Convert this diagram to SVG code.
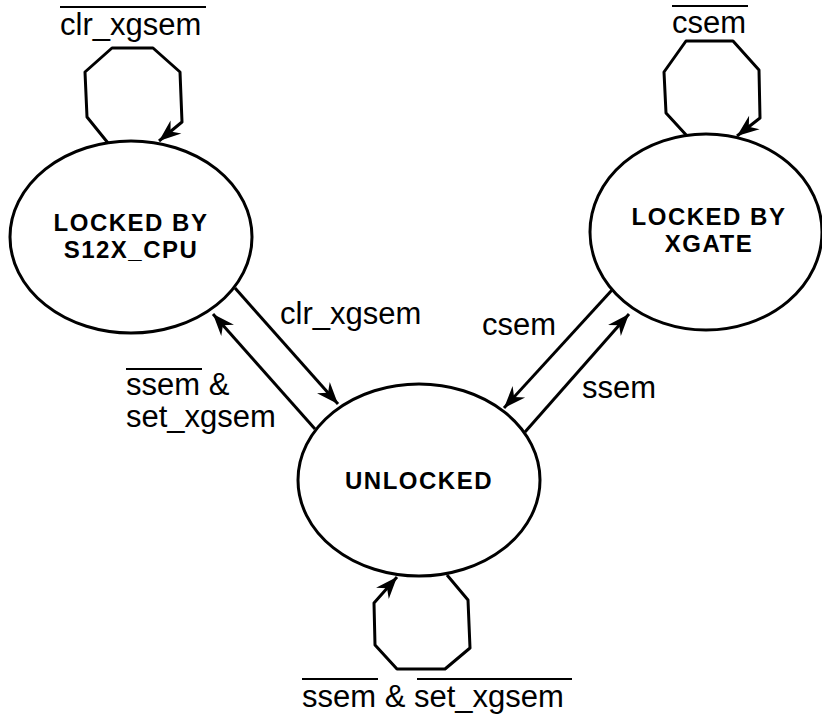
<svg xmlns="http://www.w3.org/2000/svg" width="822" height="714" viewBox="0 0 822 714">
<style>
.st{fill:#fff;stroke:#000;stroke-width:3}
.c{fill:none;stroke:#000;stroke-width:3;stroke-linejoin:round;marker-end:url(#ah)}
.b{font-family:"Liberation Sans",Arial,Helvetica,sans-serif;font-weight:bold;font-size:24px;letter-spacing:1.5px;text-anchor:middle;fill:#000}
.l{font-family:"Liberation Sans",Arial,Helvetica,sans-serif;font-size:31px;fill:#000}
.ov{stroke:#000;stroke-width:2}
</style>
<defs>
<marker id="ah" viewBox="-24 -10 26 20" markerWidth="26" markerHeight="20" refX="0" refY="0" orient="auto" markerUnits="userSpaceOnUse">
<path d="M0,0 L-22,-8.5 L-15,0 L-22,8.5 Z" fill="#000"/>
</marker>
</defs>
<g id="connectors">
<path class="c" d="M108,143 L87,117 L85,72 L112,48 L153,48 L180,72 L182,122 L159,141"/>
<path class="c" d="M688,137 L666,113 L664,72 L686,41 L733,41 L759,70 L760,118 L737,136"/>
<path class="c" d="M447,575 L468,600 L470,648 L445,669 L397,669 L375,645 L374,603 L397,577"/>
<path class="c" d="M235,288 L338,404"/>
<path class="c" d="M315,429 L213,314"/>
<path class="c" d="M612,290 L504,408"/>
<path class="c" d="M525,432 L629,314"/>
</g>
<g id="s12x">
<ellipse class="st" cx="131" cy="237" rx="121" ry="96"/>
<text class="b" x="131" y="231">LOCKED BY</text>
<text class="b" x="131" y="258">S12X_CPU</text>
</g>
<g id="xgate">
<ellipse class="st" cx="706" cy="232" rx="116" ry="98"/>
<text class="b" x="709" y="225">LOCKED BY</text>
<text class="b" x="709" y="252">XGATE</text>
</g>
<g id="unlocked">
<ellipse class="st" cx="419" cy="480" rx="121" ry="96"/>
<text class="b" x="419" y="489">UNLOCKED</text>
</g>
<g id="labels">
<text class="l" x="60" y="35">clr_xgsem</text>
<line class="ov" x1="60" y1="7" x2="206" y2="7"/>
<text class="l" x="672" y="33">csem</text>
<line class="ov" x1="672" y1="6" x2="748" y2="6"/>
<text class="l" x="280" y="324">clr_xgsem</text>
<text class="l" x="482" y="335">csem</text>
<text class="l" x="582" y="398">ssem</text>
<text class="l" x="126" y="395">ssem &amp;</text>
<line class="ov" x1="126" y1="369" x2="202" y2="369"/>
<text class="l" x="126" y="427">set_xgsem</text>
<text class="l" x="302" y="707">ssem &amp; set_xgsem</text>
<line class="ov" x1="302" y1="679" x2="378" y2="679"/>
<line class="ov" x1="417" y1="679" x2="572" y2="679"/>
</g>
</svg>
